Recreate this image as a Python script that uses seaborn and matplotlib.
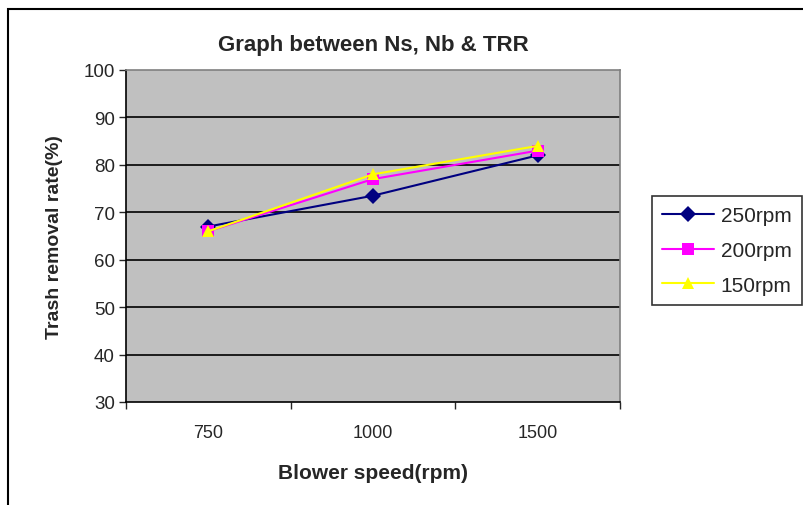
import pandas as pd
import seaborn as sns
import matplotlib.pyplot as plt
from matplotlib.patches import Rectangle

speeds = ['750', '1000', '1500']
trr_250 = [67.0, 73.5, 82.0]
trr_200 = [66.0, 77.0, 83.0]
trr_150 = [66.0, 78.0, 84.0]
series = ['250rpm', '200rpm', '150rpm']

df = pd.DataFrame({
    'speed': speeds * 3,
    'trr': trr_250 + trr_200 + trr_150,
    'series': [s for s in series for _ in speeds],
})

sns.set_style('white')
plt.rcParams['font.family'] = ['Liberation Sans', 'DejaVu Sans']

fig = plt.figure(figsize=(8.04, 5.06), dpi=100)
ax = fig.add_axes([126 / 804, 1 - 403 / 506, 494 / 804, 332 / 506])
ax.set_facecolor('#c0c0c0')

palette = {'250rpm': '#000080', '200rpm': '#ff00ff', '150rpm': '#ffff00'}
markers = {'250rpm': 'D', '200rpm': 's', '150rpm': '^'}
sns.lineplot(data=df, x='speed', y='trr', hue='series', style='series',
             palette=palette, markers=markers, dashes=False, markersize=8,
             markeredgewidth=0, linewidth=1.5, sort=False, ax=ax, legend=False)

ax.set_ylim(30, 100)
ax.set_yticks(range(30, 101, 10))
ax.set_xlim(-0.5, 2.5)
ax.set_xticks(range(len(speeds)))
ax.set_xticklabels(speeds)
ax.set_xticks([-0.5, 0.5, 1.5, 2.5], minor=True)
ax.tick_params(axis='x', which='major', length=0, labelsize=13, pad=16)
ax.tick_params(axis='x', which='minor', length=5, width=1, direction='out', bottom=True)
ax.tick_params(axis='y', length=5, width=1, direction='out', left=True, labelsize=13.5, pad=3)
for y in range(40, 100, 10):
    ax.axhline(y, color='black', linewidth=1.2, zorder=0.5)

for side in ['top', 'right']:
    ax.spines[side].set_color('#808080')
    ax.spines[side].set_linewidth(1.2)
for side in ['left', 'bottom']:
    ax.spines[side].set_color('black')
    ax.spines[side].set_linewidth(1.2)

ax.set_xlabel('Blower speed(rpm)', fontsize=15, fontweight='bold', labelpad=16)
ax.set_ylabel('Trash removal rate(%)', fontsize=14, fontweight='bold', labelpad=15)
fig.text(373 / 804, 1 - 45 / 506, 'Graph between Ns, Nb & TRR', ha='center', va='center',
         fontsize=16, fontweight='bold')

handles = [plt.Line2D([], [], color=palette[s], marker=markers[s], markersize=8,
                      markeredgewidth=0, linewidth=1.5) for s in series]
leg = fig.legend(handles, series, loc='upper left', bbox_to_anchor=(652 / 804, 1 - 197 / 506),
                 fontsize=15, frameon=True, fancybox=False, handlelength=2.5,
                 borderpad=0.5, labelspacing=0.75, handletextpad=0.3, borderaxespad=0)
leg.get_frame().set_edgecolor('black')
leg.get_frame().set_linewidth(1.2)

fig.patches.append(Rectangle((8 / 804, -0.1), 1.2, 1 - 10 / 506 + 0.1, transform=fig.transFigure,
                             fill=False, edgecolor='black', linewidth=1.5, zorder=0))

plt.savefig('out.png', dpi=100)
